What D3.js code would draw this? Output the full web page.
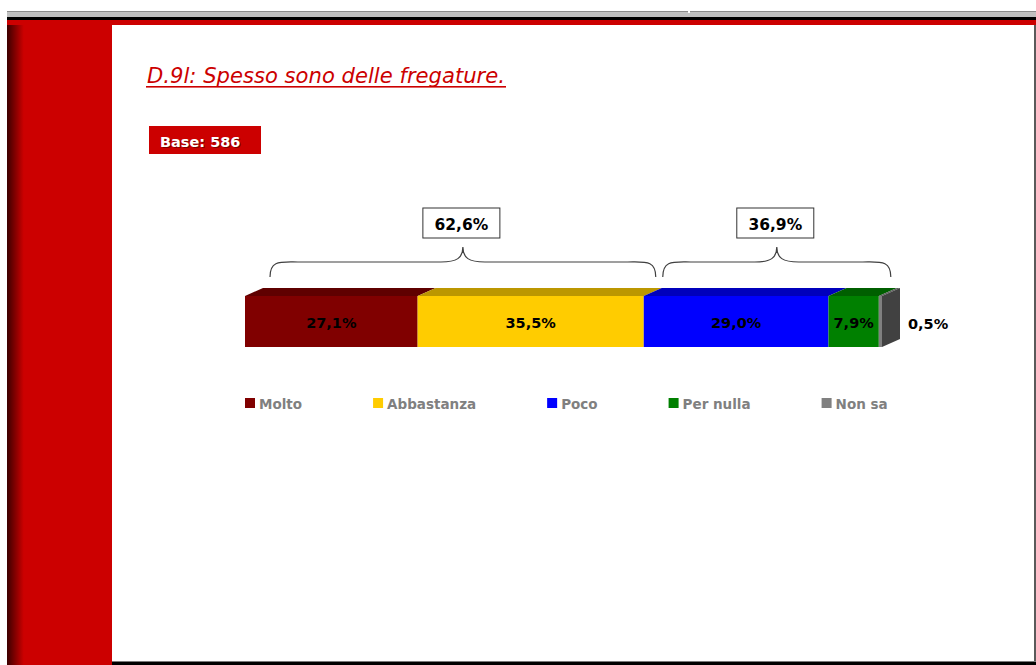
<!DOCTYPE html>
<html>
<head>
<meta charset="utf-8">
<script src="https://cdn.jsdelivr.net/npm/d3@7"></script>
<style>
  html, body { margin: 0; padding: 0; background: #ffffff; }
  svg { display: block; }
  text { font-family: "DejaVu Sans", Verdana, sans-serif; }
</style>
</head>
<body>
<svg id="chart" width="1036" height="665"></svg>
<script>
// Risposte alla domanda D.9l
const categories = ["Molto", "Abbastanza", "Poco", "Per nulla", "Non sa"];
const values = [27.1, 35.5, 29.0, 7.9, 0.5];
const colors = ["#800000", "#ffcc00", "#0000ff", "#008000", "#808080"];
// Raggruppamenti indicati dalle parentesi graffe (indici di categoria)
const groupStart = [0, 2];
const groupEnd = [1, 3];
const groupTotals = [62.6, 36.9];

const titleText = "D.9l: Spesso sono delle fregature.";
const baseText = "Base: 586";

const it = d3.formatLocale({ decimal: ",", thousands: ".", grouping: [3], currency: ["", "€"] });
const pct = v => it.format(".1f")(v) + "%";

const svg = d3.select("#chart");

// ---- cornice della slide ----
const defs = svg.append("defs");
const grad = defs.append("linearGradient").attr("id", "sideShade").attr("x1", 0).attr("x2", 1).attr("y1", 0).attr("y2", 0);
grad.append("stop").attr("offset", "0").attr("stop-color", "#3c0000");
grad.append("stop").attr("offset", "0.16").attr("stop-color", "#cc0000");
grad.append("stop").attr("offset", "1").attr("stop-color", "#cc0000");

svg.append("rect").attr("x", 7).attr("y", 11).attr("width", 1029).attr("height", 1.5).attr("fill", "#8c8c8c");
svg.append("rect").attr("x", 7).attr("y", 12.5).attr("width", 1029).attr("height", 4.5).attr("fill", "#c0c0c0");
svg.append("rect").attr("x", 688).attr("y", 10).attr("width", 2).attr("height", 3).attr("fill", "#ffffff");
svg.append("rect").attr("x", 7).attr("y", 17).attr("width", 1029).attr("height", 3).attr("fill", "#000000");
svg.append("rect").attr("x", 7).attr("y", 20).attr("width", 1029).attr("height", 5).attr("fill", "#cc0000");
svg.append("rect").attr("x", 7).attr("y", 25).attr("width", 105).attr("height", 640).attr("fill", "url(#sideShade)");
svg.append("rect").attr("x", 1034).attr("y", 25).attr("width", 2).attr("height", 640).attr("fill", "#5a5a5a");
svg.append("rect").attr("x", 112).attr("y", 661).attr("width", 924).attr("height", 1).attr("fill", "#7a7a7a");
svg.append("rect").attr("x", 112).attr("y", 662).attr("width", 924).attr("height", 3).attr("fill", "#000000");

// ---- titolo ----
svg.append("text")
  .attr("x", 147).attr("y", 83)
  .attr("font-size", 22).attr("font-style", "italic")
  .attr("fill", "#cc0000")
  .attr("textLength", 358).attr("lengthAdjust", "spacingAndGlyphs")
  .text(titleText);
svg.append("rect").attr("x", 146).attr("y", 86).attr("width", 360).attr("height", 1.6).attr("fill", "#cc0000");

// ---- riquadro base ----
svg.append("rect").attr("x", 149).attr("y", 126).attr("width", 112).attr("height", 28).attr("fill", "#cc0000");
svg.append("text")
  .attr("x", 160).attr("y", 146.5)
  .attr("font-size", 14.5).attr("font-weight", "bold")
  .attr("fill", "#ffffff")
  .style("text-shadow", "1px 1px 0 rgba(60,0,0,0.55)")
  .text(baseText);

// ---- barra in pila 3D ----
const x = d3.scaleLinear().domain([0, 100]).range([245, 882]);
const barTop = 296, barH = 51, dx = 18, dy = -8;

const cum = d3.cumsum(values);
const segs = values.map((v, i) => ({ cat: categories[i], v, x0: x(cum[i] - v), x1: x(cum[i]), c: colors[i] }));

const bar = svg.append("g");
// facce superiori
bar.selectAll("path.top").data(segs).join("path")
  .attr("class", "top")
  .attr("d", d => `M${d.x0},${barTop}L${d.x0 + dx},${barTop + dy}L${d.x1 + dx},${barTop + dy}L${d.x1},${barTop}Z`)
  .attr("fill", d => d3.color(d.c).darker(0.85));
// facce frontali
bar.selectAll("rect.front").data(segs).join("rect")
  .attr("class", "front")
  .attr("x", d => d.x0).attr("y", barTop)
  .attr("width", d => d.x1 - d.x0).attr("height", barH)
  .attr("fill", d => d.c);
// faccia laterale dell'ultimo segmento
const last = segs[segs.length - 1];
bar.append("path")
  .attr("d", `M${last.x1},${barTop}L${last.x1 + dx},${barTop + dy}L${last.x1 + dx},${barTop + barH + dy}L${last.x1},${barTop + barH}Z`)
  .attr("fill", d3.color(last.c).darker(1.9));

// etichette dei valori
bar.selectAll("text.val").data(segs.slice(0, -1)).join("text")
  .attr("class", "val")
  .attr("x", d => (d.x0 + d.x1) / 2).attr("y", 328)
  .attr("text-anchor", "middle")
  .attr("font-size", 14.5).attr("font-weight", "bold").attr("fill", "#000")
  .text(d => pct(d.v));
bar.append("text")
  .attr("x", last.x1 + dx + 8).attr("y", 329)
  .attr("font-size", 14.5).attr("font-weight", "bold").attr("fill", "#000")
  .text(pct(last.v));

// ---- parentesi graffe dei totali ----
const braceTop = 247, braceMid = 262, braceBot = 277;
function bracePath(a, b) {
  const m = (a + b) / 2;
  return `M${a},${braceBot}` +
    `C${a},${braceMid - 2} ${a + 10},${braceMid} ${a + 28},${braceMid}` +
    `L${m - 22},${braceMid}` +
    `C${m - 6},${braceMid} ${m},${braceMid - 4} ${m},${braceTop}` +
    `C${m},${braceMid - 4} ${m + 6},${braceMid} ${m + 22},${braceMid}` +
    `L${b - 28},${braceMid}` +
    `C${b - 10},${braceMid} ${b},${braceMid - 2} ${b},${braceBot}`;
}
const groups = groupTotals.map((t, i) => ({
  t,
  a: segs[groupStart[i]].x0 + (i === 0 ? 25 : 19),
  b: segs[groupEnd[i]].x1 + 12
}));
const gb = svg.append("g");
gb.selectAll("path").data(groups).join("path")
  .attr("d", d => bracePath(d.a, d.b))
  .attr("fill", "none").attr("stroke", "#404040").attr("stroke-width", 1.2);
gb.selectAll("rect").data(groups).join("rect")
  .attr("x", d => (d.a + d.b) / 2 - 40).attr("y", 208)
  .attr("width", 77).attr("height", 30)
  .attr("fill", "#fff").attr("stroke", "#333").attr("stroke-width", 1);
gb.selectAll("text").data(groups).join("text")
  .attr("x", d => (d.a + d.b) / 2 - 1.5).attr("y", 230)
  .attr("text-anchor", "middle")
  .attr("font-size", 15.5).attr("font-weight", "bold").attr("fill", "#000")
  .text(d => pct(d.t));

// ---- legenda ----
const legend = svg.append("g");
let lx = 245;
categories.forEach((c, i) => {
  legend.append("rect").attr("x", lx).attr("y", 398).attr("width", 10).attr("height", 10).attr("fill", colors[i]);
  const t = legend.append("text")
    .attr("x", lx + 14).attr("y", 409)
    .attr("font-size", 13.5).attr("font-weight", "bold").attr("fill", "#808080")
    .text(c);
  lx += 14 + t.node().getComputedTextLength() + 71;
});
</script>
</body>
</html>
